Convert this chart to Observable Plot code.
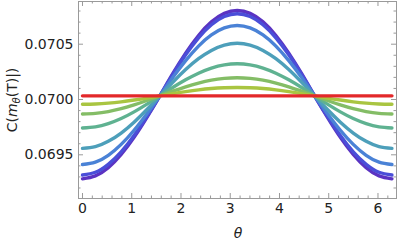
<!DOCTYPE html>
<html>
<head>
<meta charset="utf-8">
<script src="https://cdn.jsdelivr.net/npm/d3@7"></script>
<script src="https://cdn.jsdelivr.net/npm/@observablehq/plot@0.6"></script>
<style>
  html, body { margin: 0; padding: 0; background: #fff; }
</style>
</head>
<body>
<div id="chart"></div>
<script>
// theta sample points (k * pi / 12)
const theta = [0, 0.2618, 0.5236, 0.7854, 1.0472, 1.3090, 1.5708, 1.8326, 2.0944, 2.3562, 2.6180, 2.8798, 3.1416,
  3.4034, 3.6652, 3.9270, 4.1888, 4.4506, 4.7124, 4.9742, 5.2360, 5.4978, 5.7596, 6.0214, 6.2832];

const seriesNames = ["s1", "s2", "s3", "s4", "s5", "s6", "s7", "s8"];
const seriesColors = ["#5b33c2", "#4a4ed8", "#4a82d6", "#4d9fba", "#5fb291", "#84bd66", "#a9c541", "#e3282a"];

const s1 = [0.069283, 0.069309, 0.069383, 0.069503, 0.069658, 0.069839, 0.070033, 0.070233, 0.070419, 0.070579, 0.070702, 0.070779, 0.070805,
  0.070779, 0.070702, 0.070579, 0.070419, 0.070233, 0.070033, 0.069839, 0.069658, 0.069503, 0.069383, 0.069309, 0.069283];
const s2 = [0.069318, 0.069342, 0.069414, 0.069527, 0.069675, 0.069848, 0.070033, 0.070225, 0.070404, 0.070558, 0.070676, 0.070750, 0.070775,
  0.070750, 0.070676, 0.070558, 0.070404, 0.070225, 0.070033, 0.069848, 0.069675, 0.069527, 0.069414, 0.069342, 0.069318];
const s3 = [0.069412, 0.069433, 0.069495, 0.069594, 0.069722, 0.069872, 0.070033, 0.070198, 0.070351, 0.070483, 0.070584, 0.070647, 0.070669,
  0.070647, 0.070584, 0.070483, 0.070351, 0.070198, 0.070033, 0.069872, 0.069722, 0.069594, 0.069495, 0.069433, 0.069412];
const s4 = [0.069558, 0.069574, 0.069622, 0.069697, 0.069795, 0.069910, 0.070033, 0.070156, 0.070271, 0.070369, 0.070444, 0.070492, 0.070508,
  0.070492, 0.070444, 0.070369, 0.070271, 0.070156, 0.070033, 0.069910, 0.069795, 0.069697, 0.069622, 0.069574, 0.069558];
const s5 = [0.069743, 0.069753, 0.069782, 0.069828, 0.069888, 0.069958, 0.070033, 0.070108, 0.070178, 0.070238, 0.070284, 0.070313, 0.070323,
  0.070313, 0.070284, 0.070238, 0.070178, 0.070108, 0.070033, 0.069958, 0.069888, 0.069828, 0.069782, 0.069753, 0.069743];
const s6 = [0.069869, 0.069875, 0.069891, 0.069917, 0.069951, 0.069991, 0.070033, 0.070075, 0.070115, 0.070149, 0.070175, 0.070191, 0.070197,
  0.070191, 0.070175, 0.070149, 0.070115, 0.070075, 0.070033, 0.069991, 0.069951, 0.069917, 0.069891, 0.069875, 0.069869];
const s7 = [0.069957, 0.069960, 0.069967, 0.069979, 0.069995, 0.070013, 0.070033, 0.070053, 0.070071, 0.070087, 0.070099, 0.070106, 0.070109,
  0.070106, 0.070099, 0.070087, 0.070071, 0.070053, 0.070033, 0.070013, 0.069995, 0.069979, 0.069967, 0.069960, 0.069957];
const s8 = [0.070033, 0.070033, 0.070033, 0.070033, 0.070033, 0.070033, 0.070033, 0.070033, 0.070033, 0.070033, 0.070033, 0.070033, 0.070033,
  0.070033, 0.070033, 0.070033, 0.070033, 0.070033, 0.070033, 0.070033, 0.070033, 0.070033, 0.070033, 0.070033, 0.070033];

const xTickValues = [0, 1, 2, 3, 4, 5, 6];
const xMinorTicks = [0.2, 0.4, 0.6, 0.8, 1.2, 1.4, 1.6, 1.8, 2.2, 2.4, 2.6, 2.8, 3.2, 3.4, 3.6, 3.8, 4.2, 4.4, 4.6, 4.8, 5.2, 5.4, 5.6, 5.8, 6.2];
const yTickValues = [0.0695, 0.0700, 0.0705];
const yMinorTicks = [0.0692, 0.0693, 0.0694, 0.0696, 0.0697, 0.0698, 0.0699, 0.0701, 0.0702, 0.0703, 0.0704, 0.0706, 0.0707, 0.0708];

const allSeries = [s1, s2, s3, s4, s5, s6, s7, s8];
const rows = [];
allSeries.forEach((vals, si) => vals.forEach((v, i) => rows.push({theta: theta[i], value: v, series: seriesNames[si]})));

const W = 399, H = 243;
const mT = 1, mB = 45, mL = 78, mR = 3;
const plotH = H - mT - mB, plotW = W - mL - mR;
const frameColor = "#9a9a9a";

const marks = [];
seriesNames.forEach((name, si) => {
  marks.push(Plot.line(rows.filter(r => r.series === name), {
    x: "theta", y: "value", stroke: seriesColors[si], strokeWidth: 3.4, curve: "natural"
  }));
});
// ticks (inward, all four sides)
marks.push(
  Plot.tickX(xTickValues, {x: d => d, stroke: frameColor, insetTop: plotH - 5}),
  Plot.tickX(xMinorTicks, {x: d => d, stroke: frameColor, insetTop: plotH - 2.5}),
  Plot.tickX(xTickValues, {x: d => d, stroke: frameColor, insetBottom: plotH - 5}),
  Plot.tickX(xMinorTicks, {x: d => d, stroke: frameColor, insetBottom: plotH - 2.5}),
  Plot.tickY(yTickValues, {y: d => d, stroke: frameColor, insetRight: plotW - 5}),
  Plot.tickY(yMinorTicks, {y: d => d, stroke: frameColor, insetRight: plotW - 2.5}),
  Plot.tickY(yTickValues, {y: d => d, stroke: frameColor, insetLeft: plotW - 5}),
  Plot.tickY(yMinorTicks, {y: d => d, stroke: frameColor, insetLeft: plotW - 2.5}),
  Plot.frame({stroke: frameColor}),
  Plot.axisX({ticks: xTickValues, tickSize: 0, tickPadding: 5, label: null, tickFormat: d3.format("d")}),
  Plot.axisY({ticks: yTickValues, tickSize: 0, tickPadding: 5, label: null, tickFormat: d3.format(".4f")})
);

const chart = Plot.plot({
  width: W, height: H,
  marginTop: mT, marginBottom: mB, marginLeft: mL, marginRight: mR,
  style: {fontFamily: "DejaVu Sans", fontSize: "14px", color: "#222", background: "#fff"},
  x: {domain: [-0.081, 6.376]},
  y: {domain: [0.069105, 0.070886]},
  marks
});

const svg = d3.select(chart);
// axis titles
svg.append("text")
  .attr("x", 238).attr("y", 238)
  .attr("text-anchor", "middle")
  .attr("font-size", 14).attr("font-style", "italic").attr("fill", "#222")
  .text("θ");
const yl = svg.append("text")
  .attr("transform", "translate(17,100) rotate(-90)")
  .attr("text-anchor", "middle")
  .attr("font-size", 14).attr("fill", "#222");
yl.append("tspan").text("C(");
yl.append("tspan").attr("font-style", "italic").text("m");
yl.append("tspan").attr("font-style", "italic").attr("font-size", 10).attr("dy", 3).text("θ");
yl.append("tspan").attr("dy", -3).text("(T)|)");

document.getElementById("chart").appendChild(chart);
</script>
</body>
</html>
